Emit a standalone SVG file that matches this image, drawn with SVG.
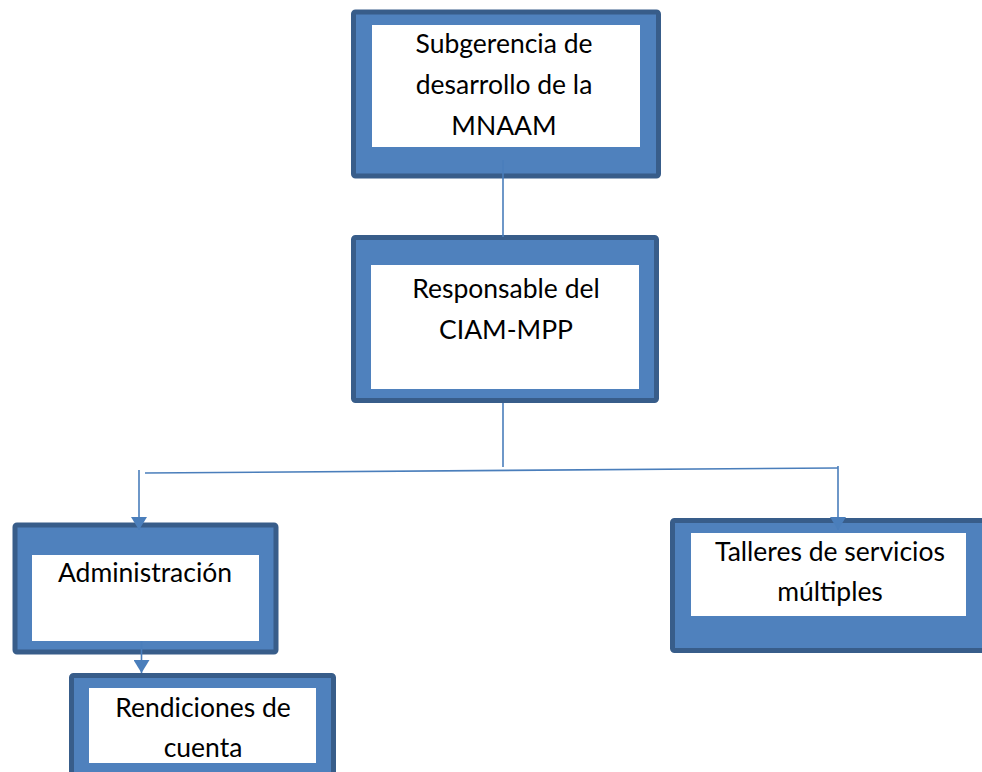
<svg xmlns="http://www.w3.org/2000/svg" width="982" height="772" viewBox="0 0 982 772">
  <defs>
    <style>
      .frame { fill: #4F81BD; stroke: #385D8A; stroke-width: 5; }
      .inner { fill: #FFFFFF; stroke: none; }
      .label { font-family: Lato, "Open Sans", sans-serif; font-size: 26.5px; fill: #000000; text-anchor: middle; }
      .conn { stroke: #4A7EBB; stroke-width: 1.6; fill: none; }
    </style>
    <marker id="arrow" markerUnits="userSpaceOnUse" markerWidth="16" markerHeight="16" viewBox="0 0 13 16" refX="13" refY="8" orient="auto">
      <path d="M0,0 L13,8 L0,16 Z" fill="#4A7EBB"/>
    </marker>
  </defs>
  <rect width="982" height="772" fill="#FFFFFF"/>

  <g id="node-subgerencia">
    <rect class="frame" x="353.5" y="12" width="305" height="164" rx="2"/>
    <rect class="inner" x="372" y="25" width="268" height="122"/>
    <text class="label" x="504" y="53">Subgerencia de</text>
    <text class="label" x="504" y="94">desarrollo de la</text>
    <text class="label" x="504" y="135">MNAAM</text>
  </g>

  <g id="node-responsable">
    <rect class="frame" x="353.5" y="237.5" width="303" height="163" rx="2"/>
    <rect class="inner" x="371" y="265" width="268" height="124"/>
    <text class="label" x="506" y="298">Responsable del</text>
    <text class="label" x="506" y="339">CIAM-MPP</text>
  </g>

  <g id="node-administracion">
    <rect class="frame" x="15" y="525" width="261" height="127" rx="2"/>
    <rect class="inner" x="32" y="555" width="227" height="86"/>
    <text class="label" x="145" y="582">Administración</text>
  </g>

  <g id="node-talleres">
    <rect class="frame" x="672.5" y="520.5" width="320" height="130" rx="2"/>
    <rect class="inner" x="691" y="533" width="275" height="83"/>
    <text class="label" x="830" y="561">Talleres de servicios</text>
    <text class="label" x="830" y="601">múltiples</text>
  </g>

  <g id="node-rendiciones">
    <rect class="frame" x="71.5" y="675.5" width="262" height="120" rx="2"/>
    <rect class="inner" x="89" y="688" width="227" height="75"/>
    <text class="label" x="203" y="717">Rendiciones de</text>
    <text class="label" x="203" y="757">cuenta</text>
  </g>

  <g id="connectors">
    <line class="conn" x1="503" y1="160" x2="503" y2="237"/>
    <line class="conn" x1="503" y1="403" x2="503" y2="467"/>
    <line class="conn" x1="145" y1="473" x2="838" y2="468"/>
    <line class="conn" x1="139" y1="470" x2="139" y2="530" marker-end="url(#arrow)"/>
    <line class="conn" x1="838" y1="466" x2="838" y2="530" marker-end="url(#arrow)"/>
    <line class="conn" x1="141.5" y1="641" x2="141.5" y2="673" marker-end="url(#arrow)"/>
  </g>
</svg>
